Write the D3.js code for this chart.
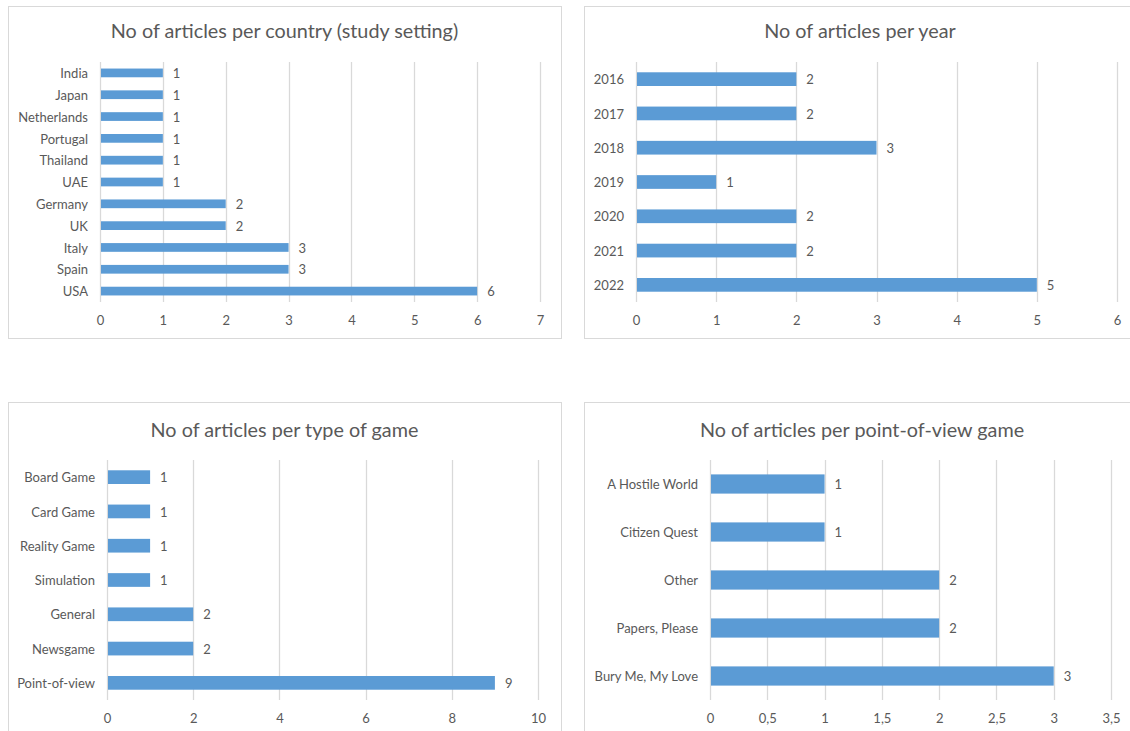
<!DOCTYPE html>
<html>
<head>
<meta charset="utf-8">
<script src="https://cdn.jsdelivr.net/npm/d3@7"></script>
<style>
  body { margin: 0; background: #fff; }
  svg { display: block; }
  text { font-family: Lato, "Open Sans", sans-serif; fill: #595959; }
</style>
</head>
<body>
<script>
// data
const countries = ["India", "Japan", "Netherlands", "Portugal", "Thailand", "UAE", "Germany", "UK", "Italy", "Spain", "USA"]
const countryCounts = [1, 1, 1, 1, 1, 1, 2, 2, 3, 3, 6]
const countryTicks = [0, 1, 2, 3, 4, 5, 6, 7]

const years = ["2016", "2017", "2018", "2019", "2020", "2021", "2022"]
const yearCounts = [2, 2, 3, 1, 2, 2, 5]
const yearTicks = [0, 1, 2, 3, 4, 5, 6]

const gameTypes = ["Board Game", "Card Game", "Reality Game", "Simulation", "General", "Newsgame", "Point-of-view"]
const gameTypeCounts = [1, 1, 1, 1, 2, 2, 9]
const gameTypeTicks = [0, 2, 4, 6, 8, 10]

const povGames = ["A Hostile World", "Citizen Quest", "Other", "Papers, Please", "Bury Me, My Love"]
const povCounts = [1, 1, 2, 2, 3]
const povTicks = [0, 0.5, 1, 1.5, 2, 2.5, 3, 3.5]

const barColor = "#5b9bd5"
const gridColor = "#d9d9d9"

var svg = d3.select("body").append("svg")
    .attr("width", 1130)
    .attr("height", 731)

// comma decimal like the original
function fmtTick(d) { return String(d).replace(".", ",") }

function drawPanel(p) {
    // panel frame
    svg.append("rect")
        .attr("x", p.box[0] + 0.5).attr("y", p.box[1] + 0.5)
        .attr("width", p.box[2]).attr("height", p.box[3])
        .attr("fill", "#fff")
        .attr("stroke", gridColor)
        .attr("stroke-width", 1)

    svg.append("text")
        .attr("x", p.box[0] + p.box[2] / 2 + p.titleDx)
        .attr("y", p.titleY)
        .attr("text-anchor", "middle")
        .style("font-size", "19.8px")
        .text(p.title)

    var x = d3.scaleLinear().domain([0, p.ticks[p.ticks.length - 1]]).range([p.left, p.right])
    var y = d3.scaleBand().domain(p.cats).range([p.top, p.bottom])
        .paddingInner(0.6).paddingOuter(0.3)

    var g = svg.append("g")

    // gridlines
    g.selectAll(".grid")
        .data(p.ticks)
        .enter().append("line")
        .attr("x1", d => Math.round(x(d)) + 0.5)
        .attr("x2", d => Math.round(x(d)) + 0.5)
        .attr("y1", p.top)
        .attr("y2", p.bottom)
        .attr("stroke", gridColor)
        .attr("stroke-width", 1.3)

    // value axis labels
    var xAxis = g.append("g")
        .attr("transform", "translate(0," + p.bottom + ")")
        .call(d3.axisBottom(x).tickValues(p.ticks).tickFormat(fmtTick).tickSize(0).tickPadding(14))
    xAxis.select(".domain").remove()
    xAxis.selectAll("text").style("font-size", "13px").attr("fill", "#595959")

    // category labels
    var yAxis = g.append("g")
        .attr("transform", "translate(" + p.left + ",0)")
        .call(d3.axisLeft(y).tickSize(0).tickPadding(12))
    yAxis.select(".domain").remove()
    yAxis.selectAll("text").style("font-size", "13px").attr("fill", "#595959").attr("dy", "0.4em")

    var rows = p.cats.map((c, i) => ({ cat: c, val: p.vals[i] }))

    g.selectAll(".bar")
        .data(rows)
        .enter().append("rect")
        .attr("x", x(0) + 1)
        .attr("y", d => y(d.cat))
        .attr("width", d => x(d.val) - x(0) - 1)
        .attr("height", y.bandwidth())
        .attr("fill", barColor)

    g.selectAll(".lbl")
        .data(rows)
        .enter().append("text")
        .attr("x", d => x(d.val) + 10)
        .attr("y", d => y(d.cat) + y.bandwidth() / 2)
        .attr("dy", "0.4em")
        .style("font-size", "13px")
        .text(d => d.val)
}

drawPanel({
    box: [8, 6, 553, 332], title: "No of articles per country (study setting)", titleY: 38, titleDx: 0,
    cats: countries, vals: countryCounts, ticks: countryTicks,
    left: 100, right: 540, top: 62, bottom: 302
})
drawPanel({
    box: [584, 6, 560, 332], title: "No of articles per year", titleY: 38, titleDx: -4,
    cats: years, vals: yearCounts, ticks: yearTicks,
    left: 636, right: 1117, top: 62, bottom: 302
})
drawPanel({
    box: [8, 402, 553, 340], title: "No of articles per type of game", titleY: 437, titleDx: 0,
    cats: gameTypes, vals: gameTypeCounts, ticks: gameTypeTicks,
    left: 107, right: 538, top: 460, bottom: 700
})
drawPanel({
    box: [584, 402, 560, 340], title: "No of articles per point-of-view game", titleY: 437, titleDx: -2,
    cats: povGames, vals: povCounts, ticks: povTicks,
    left: 710, right: 1111, top: 460, bottom: 700
})
</script>
</body>
</html>
